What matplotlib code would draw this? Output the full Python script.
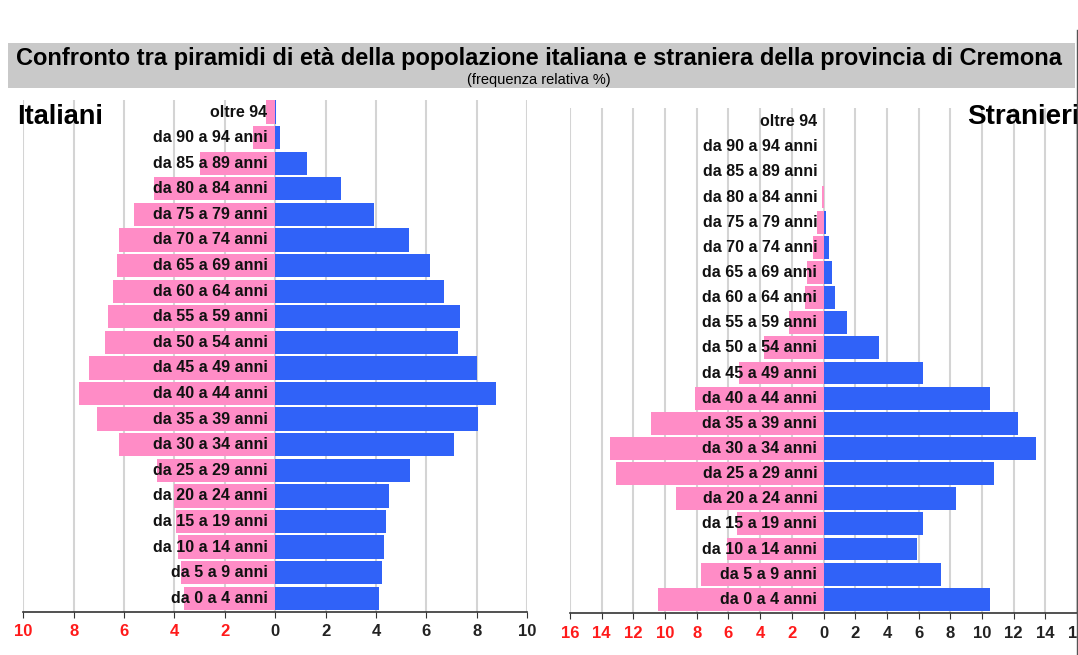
import numpy as np
import matplotlib
matplotlib.use('Agg')
import matplotlib.pyplot as plt
from matplotlib.patches import Rectangle
from matplotlib.lines import Line2D

plt.rcParams['font.family'] = ['Liberation Sans', 'DejaVu Sans']

# classi di eta' (dal basso verso l'alto)
eta = ['da 0 a 4 anni', 'da 5 a 9 anni', 'da 10 a 14 anni', 'da 15 a 19 anni',
       'da 20 a 24 anni', 'da 25 a 29 anni', 'da 30 a 34 anni', 'da 35 a 39 anni',
       'da 40 a 44 anni', 'da 45 a 49 anni', 'da 50 a 54 anni', 'da 55 a 59 anni',
       'da 60 a 64 anni', 'da 65 a 69 anni', 'da 70 a 74 anni', 'da 75 a 79 anni',
       'da 80 a 84 anni', 'da 85 a 89 anni', 'da 90 a 94 anni', 'oltre 94']

#Italiani (%)
ita_rosa = [3.64, 3.75, 3.85, 3.95, 4.02, 4.71, 6.21, 7.09, 7.77, 7.40,
            6.75, 6.62, 6.45, 6.28, 6.20, 5.60, 4.80, 3.00, 0.90, 0.37]
ita_blu = [4.12, 4.23, 4.30, 4.41, 4.50, 5.33, 7.10, 8.03, 8.75, 8.00,
           7.24, 7.34, 6.70, 6.15, 5.30, 3.93, 2.59, 1.26, 0.19, 0.03]

#Stranieri (%)
str_rosa = [10.46, 7.74, 6.07, 5.46, 9.33, 13.07, 13.46, 10.90, 8.13, 5.35,
            3.78, 2.15, 1.15, 1.04, 0.67, 0.39, 0.08, 0.0, 0.0, 0.0]
str_blu = [10.48, 7.41, 5.91, 6.28, 8.35, 10.74, 13.41, 12.26, 10.48, 6.28,
           3.50, 1.46, 0.70, 0.52, 0.35, 0.15, 0.05, 0.0, 0.0, 0.0]

ita_ticks = [-10, -8, -6, -4, -2, 0, 2, 4, 6, 8, 10]
str_ticks = [-16, -14, -12, -10, -8, -6, -4, -2, 0, 2, 4, 6, 8, 10, 12, 14, 16]

ROSA = '#ff8cc6'
BLU = '#3062f8'

fig = plt.figure(figsize=(10.78, 6.55), dpi=100)

#banner del titolo
fig.patches.append(Rectangle((8/1078, (655-88)/655), 1067/1078, 45/655,
                             transform=fig.transFigure, facecolor='#c9c9c9',
                             edgecolor='none', zorder=0))
fig.text(0.5, (655-58)/655, 'Confronto tra piramidi di età della popolazione italiana e straniera della provincia di Cremona',
         ha='center', va='center', fontsize=17, fontweight='bold')
fig.text(0.5, (655-80)/655, '(frequenza relativa %)', ha='center', va='center', fontsize=10.5)
fig.lines.append(Line2D([1077/1078, 1077/1078], [0.0, (655-30)/655],
                        transform=fig.transFigure, color='#555555', lw=1, zorder=5))


def piramide(ax, rosa, blu, ticks, xlab):
    y = np.arange(len(eta))
    ax.barh(y, [-v for v in rosa], height=0.91, color=ROSA, zorder=2)
    ax.barh(y, blu, height=0.91, color=BLU, zorder=2)
    for i, lab in enumerate(eta):
        ax.text(xlab, i, lab, ha='right', va='center', fontsize=11.5,
                fontweight='bold', color='#111111', zorder=3)
    ax.set_xlim(ticks[0], ticks[-1])
    ax.set_xticks(ticks)
    ax.set_xticklabels([str(abs(t)) for t in ticks], fontweight='bold', fontsize=12)
    for t, lab in zip(ticks, ax.get_xticklabels()):
        lab.set_color('#ff1a1a' if t < 0 else '#222222')
    ax.set_yticks([])
    for x in ticks:
        ax.axvline(x, color='#d4d4d4', lw=1.5, zorder=1)
    for s in ['top', 'left', 'right']:
        ax.spines[s].set_visible(False)
    ax.spines['bottom'].set_color('#333333')
    ax.spines['bottom'].set_linewidth(1.2)
    ax.tick_params(axis='x', direction='out', length=4, pad=5, color='#333333')


ax1 = fig.add_axes([23.3/1078, (655-611.7)/655, 504/1078, (611.7-100)/655])
piramide(ax1, ita_rosa, ita_blu, ita_ticks, -0.31)
ax1.set_ylim(-0.524, 19.47)

ax2 = fig.add_axes([569.9/1078, (655-613.3)/655, 507.2/1078, (613.3-108)/655])
piramide(ax2, str_rosa, str_blu, str_ticks, -0.39)
ax2.set_ylim(-0.557, 19.54)

fig.text(17/1078, (655-117)/655, 'Italiani', ha='left', va='center', fontsize=19.5, fontweight='bold')
fig.text(967/1078, (655-117)/655, 'Stranieri', ha='left', va='center', fontsize=20, fontweight='bold')

fig.savefig('out.png', dpi=100)
